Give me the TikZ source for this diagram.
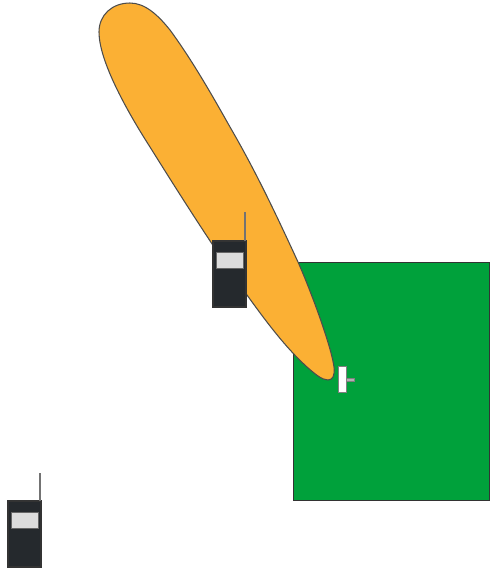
\documentclass[tikz,border=0pt]{standalone}
\usetikzlibrary{positioning}
\definecolor{lobeorange}{HTML}{FBB034}
\definecolor{cellgreen}{HTML}{00A13B}
\definecolor{phonedark}{HTML}{25292D}
\definecolor{screengray}{HTML}{DCDCDC}

\begin{document}
\begin{tikzpicture}[
  x=0.02cm, y=-0.02cm,
  cellbox/.style={draw=black!80, line width=0.5pt, fill=cellgreen, minimum width=3.92cm, minimum height=4.76cm, inner sep=0pt, outer sep=0pt, anchor=north west},
  phonebox/.style={draw=black!80, line width=0.6pt, fill=phonedark, minimum width=0.66cm, minimum height=1.32cm, inner sep=0pt, outer sep=0pt, anchor=north west},
  screenbox/.style={draw=black!60, line width=0.5pt, fill=screengray, minimum width=0.54cm, minimum height=0.33cm, inner sep=0pt, outer sep=0pt},
  tagbox/.style={draw=black!50, line width=0.5pt, fill=white, minimum width=0.16cm, minimum height=0.52cm, inner sep=0pt, outer sep=0pt, anchor=north west},
  tagstub/.style={draw=black!50, line width=0.3pt, fill=black!30, minimum width=0.16cm, minimum height=0.07cm, inner sep=0pt, outer sep=0pt},
  aerial/.style={draw=black!55, line width=0.9pt},
]
\useasboundingbox (0,0) rectangle (490,569);

% Cell area
\node[cellbox] (cell) at (293.5,262) {};

% Beam lobe
\draw[fill=lobeorange, draw=black!70, line width=0.6pt]
  (334,367) .. controls (331,345) and (310,289) .. (298,262)
  .. controls (275,212) and (255,170) .. (230,127)
  .. controls (212,95) and (192,60) .. (170,30)
  .. controls (158,15) and (145,3) .. (130,3)
  .. controls (112,3) and (99,15) .. (99,32)
  .. controls (99,60) and (125,108) .. (150,147)
  .. controls (180,195) and (215,250) .. (247,295)
  .. controls (265,320) and (285,347) .. (307,367)
  .. controls (315,374) and (322,380) .. (328,380)
  .. controls (333,380) and (335,375) .. (334,367) -- cycle;

% Handset on the beam
\node[phonebox] (phone1) at (213,241) {};
\node[screenbox, below=2.2mm of phone1.north, anchor=north] (screen1) {};
\coordinate (base1) at ([xshift=-0.02cm]phone1.north east);
\coordinate[above=5.8mm of base1] (tip1);
\draw[aerial] (base1) -- (tip1);

% Handset at the corner
\node[phonebox] (phone2) at (8,501) {};
\node[screenbox, below=2.2mm of phone2.north, anchor=north] (screen2) {};
\coordinate (base2) at ([xshift=-0.02cm]phone2.north east);
\coordinate[above=5.6mm of base2] (tip2);
\draw[aerial] (base2) -- (tip2);

% Small unit at the beam tip
\node[tagbox] (tag) at (338,366) {};
\node[tagstub, right=0pt of tag, yshift=-0.2mm] (stub) {};
\end{tikzpicture}
\end{document}
